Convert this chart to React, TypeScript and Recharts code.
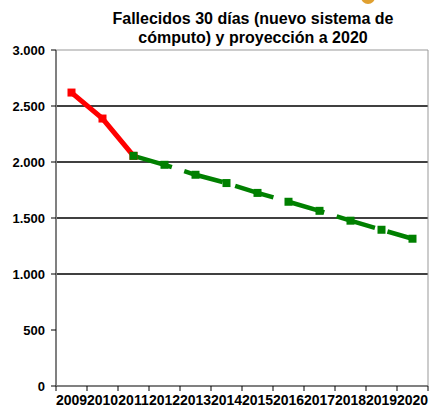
import React from "react";
import { LineChart, Line, XAxis, YAxis, ReferenceLine } from "recharts";

const years = [2009, 2010, 2011, 2012, 2013, 2014, 2015, 2016, 2017, 2018, 2019, 2020];
const actual: (number | null)[] = [2620, 2388, 2055, null, null, null, null, null, null, null, null, null];
const projection: (number | null)[] = [null, null, 2055, 1975, 1886, 1812, 1724, 1645, 1564, 1476, 1395, 1315];
const yTicks = [0, 500, 1000, 1500, 2000, 2500, 3000];
const gridValues = [1000, 1500, 2000, 2500];
const titleLines = ["Fallecidos 30 días (nuevo sistema de", "cómputo) y proyección a 2020"];

const data = years.map((y, i) => ({ year: y, actual: actual[i], projection: projection[i] }));
const xTicks = [...years.map((y) => y - 0.5), years[years.length - 1] + 0.5];

const FONT = "'Liberation Sans', Arial, sans-serif";

const fmt = (v: number) => v.toLocaleString("de-DE");

const SquareDot = (color: string) => (props: any) => {
  const { cx, cy, index, value } = props;
  if (value == null || cx == null || cy == null) return <g key={`d-${color}-${index}`} />;
  return <rect key={`d-${color}-${index}`} x={cx - 4} y={cy - 4} width={8} height={8} fill={color} />;
};

const XTick = (props: any) => {
  const { x, y, index } = props;
  if (index >= years.length) return <g />;
  const band = 31;
  return (
    <text x={x + band / 2} y={y} dy="0.71em" textAnchor="middle" fontFamily={FONT} fontSize={14} fontWeight="bold" fill="#000">
      {years[index]}
    </text>
  );
};

export default function App() {
  return (
    <div style={{ position: "relative", width: 429, height: 409, background: "#fff", overflow: "hidden" }}>
      <style>{"html,body{margin:0;padding:0;}"}</style>
      <LineChart width={429} height={409} data={data} margin={{ top: 50, right: 1, bottom: 0, left: 0 }}>
        <XAxis
          dataKey="year"
          type="number"
          domain={[xTicks[0], xTicks[xTicks.length - 1]]}
          ticks={xTicks}
          interval={0}
          tick={<XTick />}
          tickSize={5}
          tickMargin={4}
          axisLine={{ stroke: "#808080", strokeWidth: 2 }}
          tickLine={{ stroke: "#000" }}
          height={23}
        />
        <YAxis
          domain={[0, 3000]}
          ticks={yTicks}
          interval={0}
          tickFormatter={fmt}
          tickSize={5}
          tickMargin={6}
          width={56}
          axisLine={{ stroke: "#808080", strokeWidth: 2 }}
          tickLine={{ stroke: "#000" }}
          tick={{ fontFamily: FONT, fontSize: 13, fontWeight: "bold", fill: "#000" }}
        />
        {gridValues.map((g) => (
          <ReferenceLine key={g} y={g} stroke="#000" strokeWidth={1.3} />
        ))}
        <ReferenceLine y={3000} stroke="#999" strokeWidth={1} />
        <ReferenceLine x={xTicks[xTicks.length - 1]} stroke="#999" strokeWidth={1} />
        <Line
          dataKey="actual"
          stroke="#ff0000"
          strokeWidth={5}
          dot={SquareDot("#ff0000")}
          activeDot={false}
          isAnimationActive={false}
          connectNulls={false}
        />
        <Line
          dataKey="projection"
          stroke="#008000"
          strokeWidth={4.5}
          strokeDasharray="40 13"
          dot={SquareDot("#008000")}
          activeDot={false}
          isAnimationActive={false}
          connectNulls={false}
        />
      </LineChart>
      <div
        style={{
          position: "absolute",
          left: 76,
          width: 354,
          top: 9,
          textAlign: "center",
          fontFamily: FONT,
          fontWeight: "bold",
          fontSize: 16,
          lineHeight: "19px",
          color: "#000",
          zIndex: 2,
        }}
      >
        {titleLines.map((l) => (
          <div key={l}>{l}</div>
        ))}
      </div>
      <div style={{ position: "absolute", left: 361, top: -10, width: 14, height: 14, borderRadius: 7, background: "#e0a030", zIndex: 3 }} />
    </div>
  );
}
